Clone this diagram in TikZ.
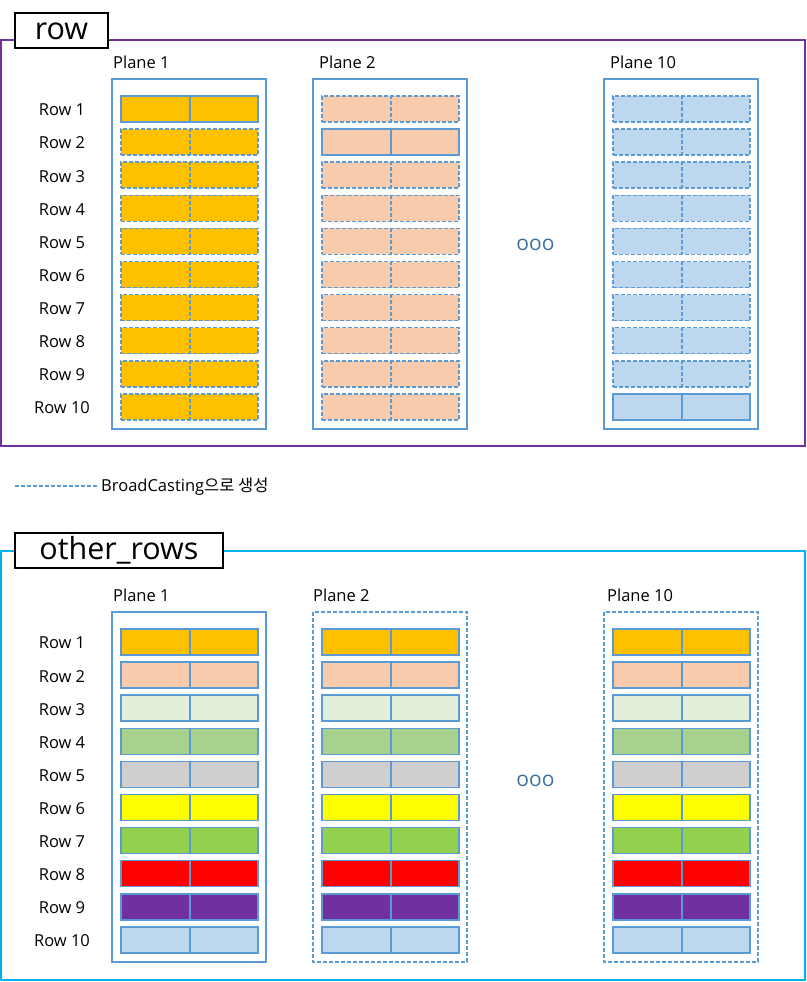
\documentclass[tikz,border=0pt]{standalone}
\usepackage{fontspec}
\setmainfont{Open Sans}
\newfontfamily\krfont{Noto Sans CJK KR}

\definecolor{cellline}{HTML}{5B9BD5}
\definecolor{framepurple}{HTML}{7030A0}
\definecolor{framecyan}{HTML}{00B0F0}
\definecolor{dotblue}{HTML}{41719C}
\definecolor{cOrange}{HTML}{FFC000}
\definecolor{cPeach}{HTML}{F8CBAD}
\definecolor{cMint}{HTML}{E2EFDA}
\definecolor{cSage}{HTML}{A9D18E}
\definecolor{cGrey}{HTML}{D0CECE}
\definecolor{cYellow}{HTML}{FFFF00}
\definecolor{cLime}{HTML}{92D050}
\definecolor{cRed}{HTML}{FF0000}
\definecolor{cPurple}{HTML}{7030A0}
\definecolor{cSky}{HTML}{BDD7EE}

\tikzset{
  cell/.style={draw=cellline, line width=1.5pt, minimum width=137pt, minimum height=26pt, inner sep=0pt},
  bcast/.style={cell, dash pattern=on 4pt off 2pt},
  divider/.style={draw=cellline, line width=2pt},
  dividerdash/.style={divider, dash pattern=on 4pt off 2pt},
  planebox/.style={draw=cellline, line width=1.5pt},
  planedash/.style={planebox, dash pattern=on 4pt off 2pt},
  titlebox/.style={draw=black, line width=2pt, fill=white, inner sep=0pt, font=\fontsize{30.5}{34}\selectfont},
  lbl/.style={font=\fontsize{16.5}{19}\selectfont},
  dots/.style={text=dotblue, font=\fontsize{21}{21}\selectfont}
}

\begin{document}
\begin{tikzpicture}[x=1pt, y=-1pt]
  \useasboundingbox (0,0) rectangle (806,982);

  % upper panel: row
  \draw[framepurple, line width=1.5pt] (1,40) rectangle (805,446);
  \node[titlebox, minimum width=93pt, minimum height=35pt] (tRow) at (61.5,31) {row};

  \foreach \px/\n/\fc/\s/\lx in {112/1/cOrange/1/113, 313/2/cPeach/2/319, 604/10/cSky/10/610}{
    \draw[planebox] (\px,79) rectangle ++(154,350);
    \node[lbl, anchor=west, inner sep=0pt] (up\n) at (\lx,62) {Plane \n};
    \foreach \r in {1,...,10}{
      \ifnum\r=\s \def\st{cell}\def\sp{divider}\else\def\st{bcast}\def\sp{dividerdash}\fi
      \node[\st, fill=\fc] (u\n r\r) at (\px+77.5, 109+\r*33.1-33.1) {};
      \draw[\sp] (u\n r\r.north) -- (u\n r\r.south);
    }
  }
  \foreach \r in {1,...,10}{\node[lbl] (ul\r) at (62,110+\r*33.1-33.1) {Row \r};}
  \node[dots] (udots) at (535.5,245) {ooo};

  % legend
  \coordinate (legA) at (15,486);
  \coordinate (legB) at (97,486);
  \draw[cellline, line width=1.2pt, dash pattern=on 4pt off 2pt] (legA) -- (legB);
  \node[lbl, anchor=west, inner sep=0pt] (legT) at (101,487) {BroadCasting{\krfont 으로 생성}};

  % lower panel: other_rows
  \draw[framecyan, line width=1.5pt] (1,551) rectangle (805,980);
  \node[titlebox, minimum width=208pt, minimum height=35pt] (tOther) at (119,550.5) {other\_rows};

  \foreach \px/\n/\bs/\lx in {112/1/planebox/113, 313/2/planedash/313, 604/10/planedash/607}{
    \draw[\bs] (\px,612) rectangle ++(154,350);
    \node[lbl, anchor=west, inner sep=0pt] (lp\n) at (\lx,595) {Plane \n};
    \foreach \r/\fc in {1/cOrange, 2/cPeach, 3/cMint, 4/cSage, 5/cGrey, 6/cYellow, 7/cLime, 8/cRed, 9/cPurple, 10/cSky}{
      \node[cell, fill=\fc] (l\n r\r) at (\px+77.5, 642+\r*33.1-33.1) {};
      \draw[divider] (l\n r\r.north) -- (l\n r\r.south);
    }
  }
  \foreach \r in {1,...,10}{\node[lbl] (ll\r) at (62,643+\r*33.1-33.1) {Row \r};}
  \node[dots] (ldots) at (535.5,781) {ooo};
\end{tikzpicture}
\end{document}
